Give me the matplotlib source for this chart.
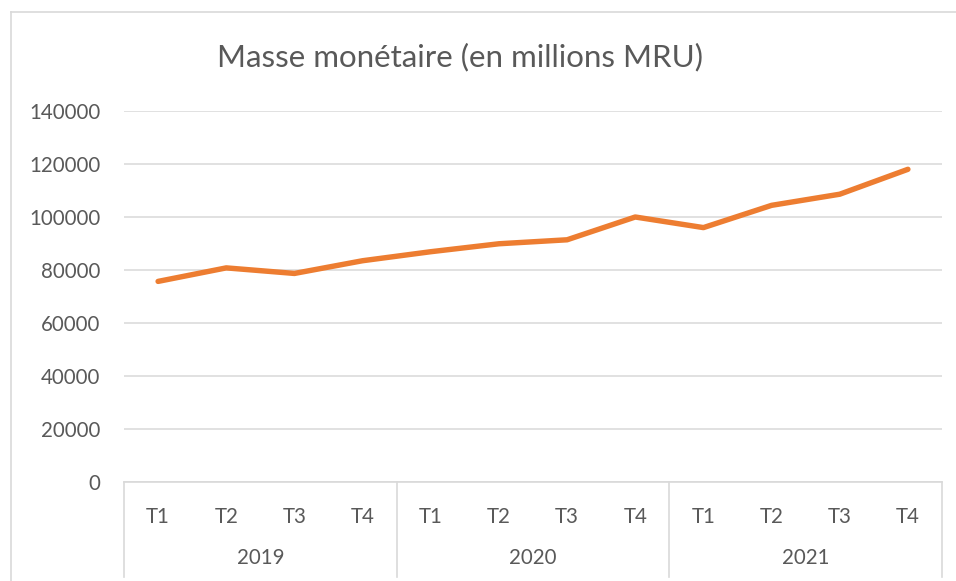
import matplotlib

matplotlib.use("Agg")

import matplotlib.pyplot as plt
from matplotlib.lines import Line2D
from matplotlib.transforms import blended_transform_factory

# data
years = ["2019", "2020", "2021"]
quarters = ["T1", "T2", "T3", "T4"]
masse_monetaire = [
    75700, 80800, 78700, 83500,
    86900, 89900, 91400, 100000,
    96000, 104400, 108600, 118000,
]
y_ticks = [0, 20000, 40000, 60000, 80000, 100000, 120000, 140000]

W, H = 956, 581
TEXT = "#595959"
GRID = "#D9D9D9"
ORANGE = "#ED7D31"

plt.rcParams["font.family"] = ["Lato", "DejaVu Sans"]

fig = plt.figure(figsize=(W / 100, H / 100), dpi=100)
fig.patch.set_facecolor("white")

# outer chart border (left and top visible, rest cropped)
fig.add_artist(Line2D([11 / W, 11 / W], [0, 1 - 12 / H], transform=fig.transFigure, color=GRID, lw=1.2))
fig.add_artist(Line2D([11 / W, 1], [1 - 12 / H, 1 - 12 / H], transform=fig.transFigure, color=GRID, lw=1.2))

left, right, top, bottom = 124, 942, 111, 482
ax = fig.add_axes([left / W, 1 - bottom / H, (right - left) / W, (bottom - top) / H])

n = len(masse_monetaire)
x = list(range(n))
ax.plot(x, masse_monetaire, color=ORANGE, lw=3.9, solid_capstyle="round", solid_joinstyle="round", zorder=3)

ax.set_xlim(-0.5, n - 0.5)
ax.set_ylim(0, 140000)
ax.set_yticks(y_ticks)
ax.set_yticklabels([str(v) for v in y_ticks], color=TEXT, fontsize=14.8)
ax.tick_params(axis="y", length=0, pad=17)
ax.grid(axis="y", color=GRID, lw=1.1, zorder=0)
ax.set_axisbelow(True)

for side in ["left", "right", "top"]:
    ax.spines[side].set_visible(False)
ax.spines["bottom"].set_color(GRID)
ax.spines["bottom"].set_linewidth(1.2)

ax.set_xticks(x)
ax.set_xticklabels(quarters * len(years), color=TEXT, fontsize=14.8)
ax.tick_params(axis="x", length=0, pad=18)

# second level of the category axis
trans = blended_transform_factory(ax.transData, ax.transAxes)
sep_bottom = -(577 - bottom) / (bottom - top)
for k in range(len(years) + 1):
    xs = k * len(quarters) - 0.5
    ax.plot([xs, xs], [0, sep_bottom], transform=trans, color=GRID, lw=1.2, clip_on=False)
for k, year in enumerate(years):
    xc = k * len(quarters) + (len(quarters) - 1) / 2
    ax.text(xc, -(558 - bottom) / (bottom - top), year, transform=trans,
            ha="center", va="center", color=TEXT, fontsize=14.8)

fig.text(460 / W, 1 - 57 / H, "Masse monétaire (en millions MRU)", ha="center", va="center",
         color=TEXT, fontsize=22.5)

fig.savefig("out.png", dpi=100, facecolor="white")
plt.close(fig)
